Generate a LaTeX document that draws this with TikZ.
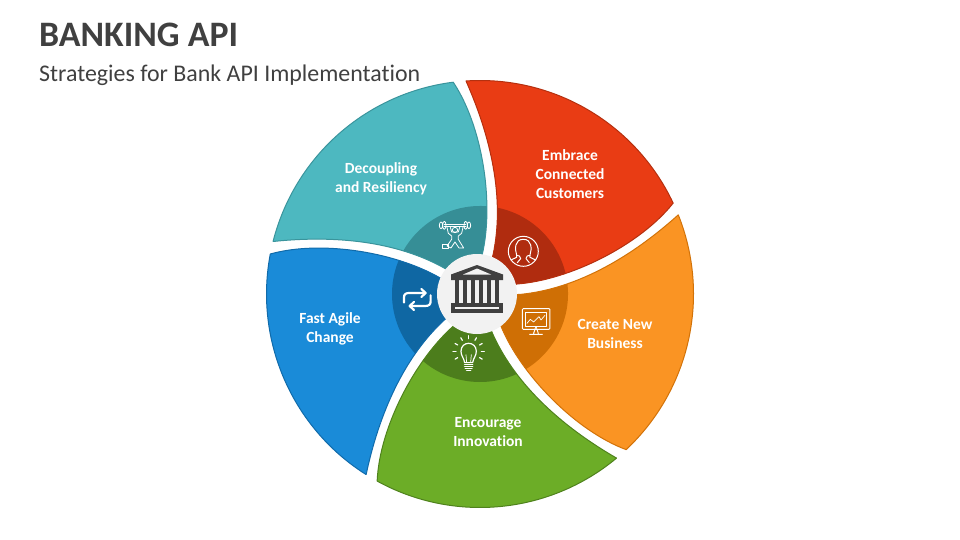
\documentclass[tikz,border=0pt]{standalone}
\usepackage{fontspec}
\usetikzlibrary{calc}
\setmainfont[RawFeature={-liga;-dlig;-clig}]{Carlito}
\definecolor{tealm}{HTML}{4DB8C0}\definecolor{teald}{HTML}{368E96}\definecolor{tealb}{HTML}{3A949C}
\definecolor{redm}{HTML}{E93C14}\definecolor{redd}{HTML}{B02C0F}\definecolor{redb}{HTML}{B5300F}
\definecolor{orangem}{HTML}{FA9423}\definecolor{oranged}{HTML}{CF6F05}\definecolor{orangeb}{HTML}{D27208}
\definecolor{greenm}{HTML}{6CAD27}\definecolor{greend}{HTML}{4C7D1C}\definecolor{greenb}{HTML}{4F821D}
\definecolor{bluem}{HTML}{1A8BD8}\definecolor{blued}{HTML}{0F67A3}\definecolor{blueb}{HTML}{116BAA}
\definecolor{inkc}{HTML}{404040}\definecolor{hubc}{HTML}{F2F2F2}
\newcommand{\bladepath}{(93.76:213.5) arc[start angle=93.76,end angle=25.2,radius=213.5]
  .. controls (160,49) and (90,14) .. (37,10) -- (20,6) -- (8,20) -- (13,39)
  .. controls (24,90) and (14,150) .. (-14,213) -- cycle}
\newcommand{\blade}[4]{%
  \begin{scope}[shift={(480,294)},x=1pt,y=1pt,rotate=#1]
    \begin{scope}
      \clip \bladepath;
      \fill[#2] \bladepath;
      \fill[#3] (0,0) circle[radius=88];
    \end{scope}
    \draw[#4,line width=1pt,line join=round] \bladepath;
  \end{scope}}
\tikzset{
  lbl/.style={text=white,align=center,font=\fontsize{15.5}{19}\selectfont\bfseries,inner sep=0pt},
  ico/.style={draw=white,line width=1pt,line cap=round,line join=round,fill=none},
  cols/.style={fill=inkc,draw=none}
}
\begin{document}
\begin{tikzpicture}[x=1pt,y=-1pt]
\useasboundingbox (0,0) rectangle (960,540);
\node[anchor=base west,inner sep=0pt,text=inkc,font=\fontsize{35.8}{40}\selectfont\bfseries] (title) at (39,46.5) {BANKING API};
\node[anchor=base west,inner sep=0pt,text=inkc,font=\fontsize{23.9}{28}\selectfont] (subtitle) at (39,81.5) {Strategies for Bank API Implementation};
\blade{72}{tealm}{teald}{tealb}
\blade{0}{redm}{redd}{redb}
\blade{-72}{orangem}{oranged}{orangeb}
\blade{-144}{greenm}{greend}{greenb}
\blade{-216}{bluem}{blued}{blueb}
% hub
\fill[hubc] (477,294) circle[radius=40];
% bank icon
\fill[cols] (477,265) -- (451,274.5) -- (451,280) -- (503,280) -- (503,274.5) -- cycle;
\fill[hubc] (477,268.5) -- (463,274.5) -- (491,274.5) -- cycle;
\foreach \cx in {455,463.2,471.2,479,487,495}{\fill[cols] (\cx,279) rectangle ++(4,24);}
\fill[cols] (451,303) rectangle (503,313);
\fill[hubc] (455,307.3) rectangle (499,309);
% person
\begin{scope}[shift={(504,232)},x=0.333pt,y=-0.333pt]
  \draw[ico] (58,58) circle[radius=45];
  \draw[ico] (21,84) -- (38,76) -- (38,70) .. controls (32,50) and (32,22) .. (58,22) .. controls (84,22) and (84,50) .. (78,70) -- (78,76) -- (95,84);
  \draw[ico] (38,70) -- (46,72) -- (50,80) -- (40,92) (78,70) -- (70,72) -- (66,80) -- (76,92);
\end{scope}
% lifter
\begin{scope}[shift={(435,218)},x=0.333pt,y=-0.333pt]
  \draw[ico,line width=0.8pt] (28,18) -- (92,18) (28,26) -- (92,26);
  \draw[ico,line width=0.8pt] (18,22) ellipse[x radius=5,y radius=10] (28,22) ellipse[x radius=5,y radius=12] (92,22) ellipse[x radius=5,y radius=12] (102,22) ellipse[x radius=5,y radius=10];
  \draw[ico,line width=0.8pt] (60,36) circle[radius=8];
  \draw[ico,line width=0.8pt] (36,28) -- (40,46) -- (50,54) -- (50,64) -- (36,84) -- (48,90) -- (60,72) -- (72,90) -- (86,90) -- (70,64) -- (70,54) -- (80,46) -- (84,28);
  \draw[ico,line width=0.8pt] (46,28) -- (50,42) -- (70,42) -- (74,28);
  \draw[ico,line width=0.8pt] (22,78) rectangle (40,90);
\end{scope}
% monitor
\begin{scope}[shift={(515,302)},x=0.333pt,y=-0.333pt]
  \draw[ico,rounded corners=1pt] (22,20) rectangle (105,82);
  \draw[ico,line width=0.7pt] (32,30) rectangle (95,72);
  \draw[ico,line width=0.7pt] (36,64) -- (46,52) -- (56,60) -- (72,44) -- (78,54) -- (90,40);
  \draw[ico] (60,82) -- (56,94) (66,82) -- (70,94) (44,97) -- (82,97);
  \draw[ico,line width=0.7pt] (60,74) -- (66,80) (66,74) -- (60,80);
\end{scope}
% bulb
\begin{scope}[shift={(448,332)},x=0.333pt,y=-0.333pt]
  \draw[ico,line width=1.2pt] (50,92) .. controls (48,78) and (39,72) .. (39,58) .. controls (39,26) and (85,26) .. (85,58) .. controls (85,72) and (76,78) .. (74,92) -- cycle;
  \draw[ico,line width=0.7pt] (56,92) -- (54,68) (68,92) -- (70,68);
  \draw[ico,line width=1.4pt] (50,97) -- (74,97) (50,103) -- (74,103) (52,109) -- (72,109) (56,115) -- (68,115);
  \foreach \a in {-30,0,30,60,90,120,150,180,210}{
    \draw[ico,line width=1.2pt] ($(62,58)+(\a:-38)$) -- ($(62,58)+(\a:-47)$);
  }
\end{scope}
% arrows
\begin{scope}[shift={(396,282)},x=0.333pt,y=-0.333pt]
  \draw[ico,line width=2.2pt] (24,62) -- (24,46) .. controls (24,36) and (30,33) .. (40,33) -- (88,33);
  \draw[ico,line width=2.2pt] (76,21) -- (89,33) -- (76,45);
  \draw[ico,line width=2.2pt] (104,40) -- (104,58) .. controls (104,68) and (98,72) .. (88,72) -- (42,72);
  \draw[ico,line width=2.2pt] (54,60) -- (41,72) -- (54,84);
\end{scope}
% labels
\node[lbl] (decoupling) at (381,178.5) {Decoupling\\and Resiliency};
\node[lbl] (embrace) at (570,174.5) {Embrace\\Connected\\Customers};
\node[lbl] (create) at (615,334) {Create New\\Business};
\node[lbl] (encourage) at (488,432) {Encourage\\Innovation};
\node[lbl] (fast) at (330,328.5) {Fast Agile\\Change};
\end{tikzpicture}
\end{document}
